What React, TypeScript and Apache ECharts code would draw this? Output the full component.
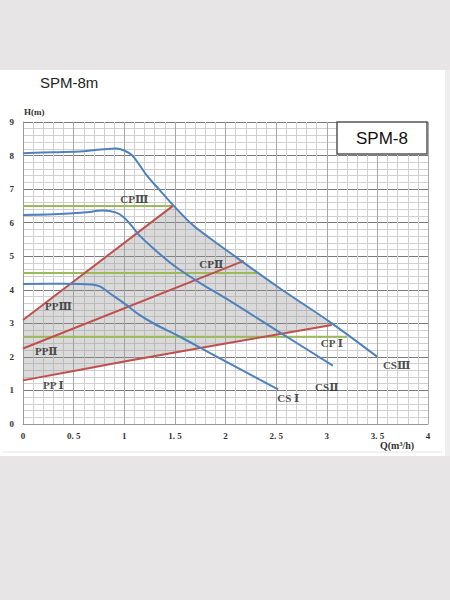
import React, { useEffect, useRef } from "react";
import * as echarts from "echarts";

const xTickLabels = ["0", "0. 5", "1", "1. 5", "2", "2. 5", "3", "3. 5", "4"];
const yTickLabels = ["0", "1", "2", "3", "4", "5", "6", "7", "8", "9"];

// Pump curves (Q m3/h, H m)
const csIII = [[0, 8.07], [0.3, 8.1], [0.6, 8.13], [0.8, 8.19], [0.92, 8.21], [1.0, 8.15], [1.08, 8.0], [1.15, 7.72], [1.22, 7.42], [1.35, 6.97], [1.48, 6.53], [1.68, 5.92], [1.85, 5.53], [2.0, 5.2], [2.5, 4.12], [3.05, 3.0], [3.5, 2.0]];
const csII = [[0, 6.23], [0.3, 6.25], [0.6, 6.3], [0.79, 6.36], [0.92, 6.3], [1.0, 6.15], [1.08, 5.88], [1.15, 5.62], [1.3, 5.2], [1.5, 4.7], [1.75, 4.2], [2.0, 3.75], [2.5, 2.8], [3.06, 1.74]];
const csI = [[0, 4.17], [0.4, 4.18], [0.68, 4.16], [0.76, 4.1], [0.86, 3.89], [1.02, 3.55], [1.15, 3.25], [1.3, 2.98], [1.55, 2.6], [1.88, 2.06], [2.52, 1.03]];

const ppIII = [[0, 3.1], [1.48, 6.5]];
const ppII = [[0, 2.25], [2.18, 4.86]];
const ppI = [[0, 1.3], [1, 1.86], [2, 2.4], [3.05, 2.95]];

const cpIII = [[0, 6.5], [1.48, 6.5]];
const cpII = [[0, 4.5], [2.32, 4.5]];
const cpI = [[0, 2.6], [3.2, 2.6]];

// Shaded operating region: PPI (bottom), CSIII (right), PPIII (upper-left)
const shadeRegion = [[0, 1.3], [1, 1.86], [2, 2.4], [3.05, 2.95], [2.5, 4.12], [2.0, 5.2], [1.85, 5.53], [1.68, 5.92], [1.48, 6.5], [0, 3.1]];

const curveLabels = [
  { name: "CPⅢ", value: [1.1, 6.72] },
  { name: "CPⅡ", value: [1.86, 4.77] },
  { name: "PPⅢ", value: [0.35, 3.52] },
  { name: "PPⅡ", value: [0.23, 2.18] },
  { name: "PP Ⅰ", value: [0.3, 1.16] },
  { name: "CP Ⅰ", value: [3.05, 2.4] },
  { name: "CSⅢ", value: [3.69, 1.76] },
  { name: "CSⅡ", value: [3.0, 1.11] },
  { name: "CS Ⅰ", value: [2.62, 0.76] },
];

const SERIF = "'Liberation Serif', 'DejaVu Serif', 'Noto Sans CJK SC', serif";
const SANS = "'Liberation Sans', Arial, sans-serif";
const BLUE = "#4f81bd";
const RED = "#c0504d";
const GREEN = "#9bbb59";

function lineSeries(data: number[][], color: string, smooth: number | boolean = false) {
  return {
    type: "line",
    data,
    showSymbol: false,
    smooth,
    lineStyle: { color, width: 2 },
    itemStyle: { color },
    silent: true,
    z: 3,
  };
}

export default function App() {
  const ref = useRef<HTMLDivElement>(null);
  useEffect(() => {
    const chart = echarts.init(ref.current as HTMLDivElement, null, { renderer: "svg" });
    const option: any = {
      animation: false,
      backgroundColor: "#ffffff",
      grid: { left: 23, right: 22, top: 122, bottom: 176 },
      xAxis: {
        type: "value",
        min: 0,
        max: 4,
        interval: 0.5,
        axisLine: { show: true, lineStyle: { color: "#999", width: 1 } },
        axisTick: { show: false },
        axisLabel: {
          margin: 7,
          fontFamily: SERIF,
          fontWeight: "bold",
          fontSize: 9,
          color: "#333",
          formatter: (v: number) => xTickLabels[Math.round(v / 0.5)] ?? "",
        },
        splitLine: { show: true, lineStyle: { color: "#a8a8a8", width: 1 } },
        minorTick: { show: false, splitNumber: 5 },
        minorSplitLine: { show: true, lineStyle: { color: "#d0d0d0", width: 1 } },
      },
      yAxis: {
        type: "value",
        min: 0,
        max: 9,
        interval: 1,
        axisLine: { show: true, lineStyle: { color: "#999", width: 1 } },
        axisTick: { show: false },
        axisLabel: {
          margin: 9,
          fontFamily: SERIF,
          fontWeight: "bold",
          fontSize: 9,
          color: "#333",
          formatter: (v: number) => yTickLabels[Math.round(v)] ?? "",
        },
        splitLine: { show: true, lineStyle: { color: "#7a7a7a", width: 1 } },
        minorTick: { show: false, splitNumber: 5 },
        minorSplitLine: { show: true, lineStyle: { color: "#d0d0d0", width: 1 } },
      },
      graphic: [
        { type: "rect", silent: true, shape: { x: 0, y: 0, width: 450, height: 70 }, style: { fill: "#e7e5e6" } },
        { type: "rect", silent: true, shape: { x: 0, y: 456, width: 450, height: 144 }, style: { fill: "#e7e5e6" } },
        { type: "rect", silent: true, shape: { x: 445, y: 70, width: 5, height: 386 }, style: { fill: "#eeeeee" } },
        { type: "line", silent: true, shape: { x1: 3, y1: 452, x2: 442, y2: 452 }, style: { stroke: "#e4e4e4", lineWidth: 1 } },
        {
          type: "text", silent: true, x: 40, y: 82,
          style: { text: "SPM-8m", fontFamily: SANS, fontSize: 15, fill: "#222", textVerticalAlign: "middle" },
        },
        {
          type: "text", silent: true, x: 24, y: 112,
          style: { text: "H(m)", fontFamily: SERIF, fontWeight: "bold", fontSize: 9, fill: "#333", textVerticalAlign: "middle" },
        },
        {
          type: "text", silent: true, x: 380, y: 445,
          style: { text: "Q(m³/h)", fontFamily: SERIF, fontWeight: "bold", fontSize: 10, fill: "#333", textVerticalAlign: "middle" },
        },
        {
          type: "rect", silent: true, z: 10,
          shape: { x: 337, y: 122, width: 90, height: 32 },
          style: { fill: "#ffffff", stroke: "#555", lineWidth: 1.5 },
        },
        {
          type: "text", silent: true, z: 11, x: 382, y: 138,
          style: { text: "SPM-8", fontFamily: SANS, fontSize: 17, fill: "#111", textAlign: "center", textVerticalAlign: "middle" },
        },
      ],
      series: [
        {
          type: "custom",
          silent: true,
          z: 1,
          data: [[0, 0]],
          renderItem: (params: any, api: any) => ({
            type: "polygon",
            shape: { points: shadeRegion.map((p) => api.coord(p)) },
            style: { fill: "rgba(150,150,150,0.35)", stroke: "none" },
          }),
        },
        lineSeries(cpIII, GREEN),
        lineSeries(cpII, GREEN),
        lineSeries(cpI, GREEN),
        lineSeries(ppIII, RED),
        lineSeries(ppII, RED),
        lineSeries(ppI, RED, 0.3),
        lineSeries(csIII, BLUE, 0.35),
        lineSeries(csII, BLUE, 0.35),
        lineSeries(csI, BLUE, 0.35),
        {
          type: "scatter",
          silent: true,
          symbolSize: 0,
          data: curveLabels,
          z: 5,
          label: {
            show: true,
            position: "inside",
            formatter: "{b}",
            fontFamily: SERIF,
            fontWeight: "bold",
            fontSize: 11,
            color: "#222",
          },
        },
      ],
    };
    chart.setOption(option);
    return () => chart.dispose();
  }, []);
  return <div ref={ref} style={{ position: "absolute", left: 0, top: 0, width: 450, height: 600 }} />;
}
